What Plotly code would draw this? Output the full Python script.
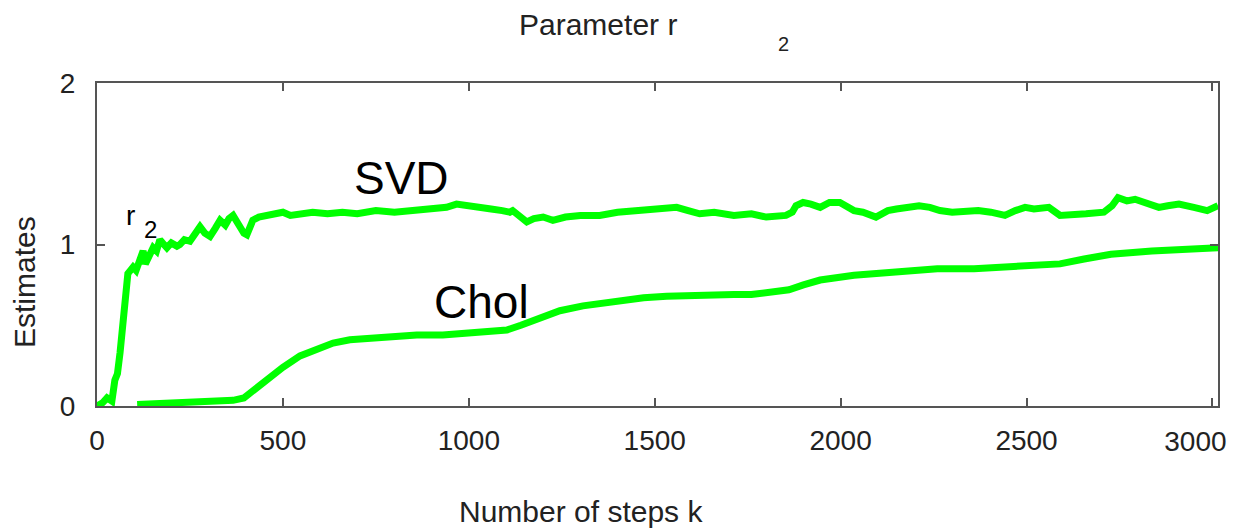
import plotly.graph_objects as go

# SVD estimate of r2
svd_k = [0, 15, 27, 40, 48, 55, 62, 70, 75, 83, 90, 97, 105, 116, 124, 130, 140, 151, 160, 169,
         180, 188, 200, 215, 223, 235, 250, 262, 277, 290, 304, 318, 331, 345, 355, 366, 375, 384,
         395, 403, 412, 419, 435, 457, 480, 500, 520, 546, 580, 620, 660, 700, 750, 800, 850, 900,
         940, 967, 990, 1020, 1060, 1090, 1110, 1118, 1135, 1156, 1175, 1200, 1226, 1260, 1300,
         1352, 1400, 1441, 1480, 1520, 1559, 1590, 1621, 1660, 1713, 1760, 1800, 1853, 1870, 1880,
         1899, 1920, 1945, 1970, 1998, 2036, 2060, 2095, 2110, 2127, 2150, 2180, 2211, 2240, 2267,
         2300, 2340, 2370, 2404, 2420, 2442, 2470, 2496, 2520, 2560, 2590, 2625, 2660, 2708, 2730,
         2746, 2770, 2792, 2820, 2856, 2880, 2910, 2950, 2986, 3015]
svd_val = [0.0, 0.02, 0.05, 0.03, 0.16, 0.2, 0.33, 0.5, 0.61, 0.82, 0.84, 0.86, 0.84, 0.92, 0.96,
           0.88, 0.93, 0.98, 0.96, 1.03, 1.0, 0.98, 1.01, 0.99, 1.0, 1.03, 1.02, 1.06, 1.11, 1.07,
           1.05, 1.1, 1.15, 1.12, 1.16, 1.18, 1.14, 1.11, 1.07, 1.06, 1.1, 1.15, 1.17, 1.18, 1.19,
           1.2, 1.18, 1.19, 1.2, 1.19, 1.2, 1.19, 1.21, 1.2, 1.21, 1.22, 1.23, 1.25, 1.24, 1.23,
           1.22, 1.21, 1.2, 1.21, 1.18, 1.14, 1.16, 1.17, 1.15, 1.17, 1.18, 1.18, 1.2, 1.21, 1.22,
           1.22, 1.23, 1.21, 1.19, 1.2, 1.18, 1.19, 1.17, 1.18, 1.2, 1.24, 1.26, 1.25, 1.23, 1.26,
           1.26, 1.21, 1.2, 1.17, 1.19, 1.21, 1.22, 1.23, 1.24, 1.23, 1.21, 1.2, 1.21, 1.21, 1.2,
           1.19, 1.18, 1.21, 1.23, 1.22, 1.23, 1.18, 1.18, 1.19, 1.2, 1.24, 1.29, 1.27, 1.28, 1.26,
           1.23, 1.24, 1.25, 1.23, 1.21, 1.24]

# Cholesky estimate of r2
chol_k = [108, 188, 277, 366, 395, 411, 435, 457, 480, 500, 546, 600, 635, 680, 726, 800, 860, 930,
          995, 1060, 1102, 1140, 1173, 1210, 1245, 1307, 1398, 1470, 1532, 1621, 1713, 1760, 1805,
          1861, 1900, 1945, 2036, 2100, 2173, 2260, 2359, 2450, 2542, 2590, 2655, 2727, 2837, 2920,
          3015]
chol_val = [0.01, 0.02, 0.025, 0.035, 0.05, 0.08, 0.12, 0.16, 0.2, 0.24, 0.31, 0.36, 0.39, 0.41,
            0.42, 0.43, 0.44, 0.44, 0.45, 0.46, 0.47, 0.5, 0.53, 0.56, 0.59, 0.62, 0.65, 0.67, 0.68,
            0.69, 0.69, 0.69, 0.70, 0.72, 0.75, 0.78, 0.81, 0.82, 0.84, 0.85, 0.85, 0.86, 0.87, 0.88,
            0.91, 0.94, 0.96, 0.97, 0.98]

x_ticks = [0, 500, 1000, 1500, 2000, 2500, 3000]
x_tick_text = ["0", "500", "1000", "1500", "2000", "2500", ""]
last_tick = [3000]
last_tick_text = ["3000"]
y_ticks = [0, 1, 2]

X_RANGE = [0, 3015]
GREEN = "#00ff00"
FONT = "Liberation Sans, Arial, sans-serif"

fig = go.Figure()
fig.add_trace(go.Scatter(x=svd_k, y=svd_val, mode="lines",
                         line=dict(color=GREEN, width=7), showlegend=False))
fig.add_trace(go.Scatter(x=chol_k, y=chol_val, mode="lines",
                         line=dict(color=GREEN, width=7), showlegend=False))
# helper trace so the label-only axis for the last tick is drawn
fig.add_trace(go.Scatter(x=last_tick, y=[None], xaxis="x2", mode="lines",
                         showlegend=False, hoverinfo="skip"))

tickfont = dict(family=FONT, size=28, color="#222222")
axis_common = dict(showline=True, linecolor="#555555", linewidth=2, mirror="ticks",
                   ticks="inside", ticklen=8, tickwidth=2, tickcolor="#555555",
                   showgrid=False, zeroline=False, automargin=False, tickfont=tickfont)

fig.update_layout(
    xaxis=dict(range=X_RANGE, tickvals=x_ticks, ticktext=x_tick_text,
               ticklabelstandoff=8, **axis_common),
    yaxis=dict(range=[0, 2], tickvals=y_ticks, ticklabelstandoff=14, **axis_common),
    xaxis2=dict(range=X_RANGE, overlaying="x", anchor="y", side="bottom",
                tickvals=last_tick, ticktext=last_tick_text, ticks="",
                showline=False, showgrid=False, zeroline=False, automargin=False,
                ticklabelstandoff=16, ticklabelshift=-17, tickfont=tickfont),
)

ann = [
    dict(text="Parameter r", x=0.447, y=1.18, xref="paper", yref="paper",
         font=dict(size=30)),
    dict(text="2", x=0.612, y=1.121, xref="paper", yref="paper", font=dict(size=20)),
    dict(text="Estimates", x=-0.0642, y=0.384, xref="paper", yref="paper",
         textangle=-90, font=dict(size=30)),
    dict(text="Number of steps k", x=0.4318, y=-0.328, xref="paper", yref="paper",
         font=dict(size=30)),
    dict(text="SVD", x=818, y=1.412, xref="x", yref="y", font=dict(size=46, color="black")),
    dict(text="Chol", x=1033, y=0.644, xref="x", yref="y", font=dict(size=46, color="black")),
    dict(text="r", x=91, y=1.18, xref="x", yref="y", font=dict(size=28, color="black")),
    dict(text="2", x=145, y=1.09, xref="x", yref="y", font=dict(size=24, color="black")),
]
for a in ann:
    a.setdefault("font", {})
    a["font"].setdefault("family", FONT)
    a["font"].setdefault("color", "#222222")
    a.update(showarrow=False, xanchor="center", yanchor="middle")
fig.update_layout(annotations=ann)

fig.update_layout(width=1235, height=529, margin=dict(l=97, r=17, t=83, b=123, autoexpand=False),
                  paper_bgcolor="white", plot_bgcolor="white",
                  font=dict(family=FONT, color="#222222"))

fig.write_html("out.html")
